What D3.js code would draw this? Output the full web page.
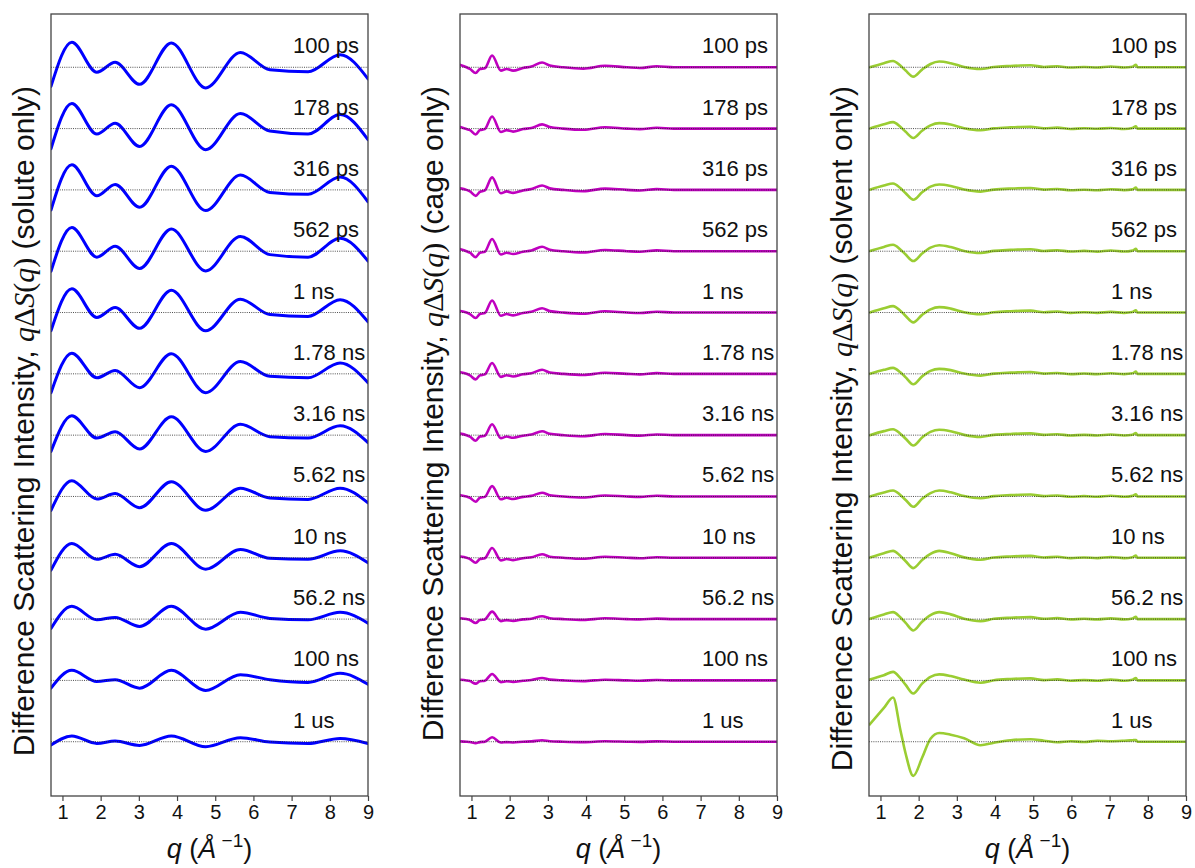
<!DOCTYPE html>
<html>
<head>
<meta charset="utf-8">
<script src="https://cdn.jsdelivr.net/npm/d3@7"></script>
<style>
  body { margin: 0; background: #fff; }
  svg text { font-family: "Liberation Sans", Arial, sans-serif; }
</style>
</head>
<body>
<svg id="chart" width="1195" height="868"></svg>
<script>
// Time delays, top to bottom
const delays = ["100 ps", "178 ps", "316 ps", "562 ps", "1 ns", "1.78 ns",
                "3.16 ns", "5.62 ns", "10 ns", "56.2 ns", "100 ns", "1 us"];

// Vertical offset between stacked curves (intensity units)
const stackStep = 61;

// x ticks
const qTicks = [1, 2, 3, 4, 5, 6, 7, 8, 9];

// ---- solute-only contribution ----
const qSolute = [0.70, 1.245, 1.90, 2.38, 3.02, 3.85, 4.75, 5.66, 6.43, 7.43, 8.27, 9.0];
const soluteCurves = [
  [-19.0, 25.0, -4.9, 4.9, -16.9, 24.2, -20.5, 14.7, -2.5, -4.5, 12.5, -11.5],
  [-20.0, 25.0, -5.5, 5.2, -17.8, 23.6, -21.0, 15.0, -2.5, -5.5, 14.0, -11.0],
  [-20.0, 25.0, -5.9, 5.4, -17.2, 23.6, -20.6, 14.7, -2.5, -4.4, 12.8, -11.8],
  [-20.0, 23.6, -5.9, 4.9, -17.2, 22.1, -19.6, 14.7, -3.4, -5.9, 12.8, -9.8],
  [-18.2, 23.6, -4.9, 4.9, -15.7, 22.1, -18.2, 13.3, -2.0, -3.9, 12.8, -9.3],
  [-18.7, 20.6, -3.9, 3.4, -13.8, 20.1, -18.7, 12.3, -2.5, -3.9, 10.8, -8.8],
  [-16.2, 19.2, -2.9, 3.4, -13.8, 18.2, -16.2, 10.8, -1.5, -2.9, 9.3, -7.4],
  [-13.8, 15.7, -2.5, 2.9, -11.3, 14.7, -13.8, 8.3, -1.5, -2.9, 8.3, -6.4],
  [-12.3, 14.2, -1.5, 3.4, -8.8, 14.2, -11.3, 8.3, -0.5, -1.5, 6.9, -4.9],
  [-9.3, 12.7, -0.7, 1.7, -7.3, 12.7, -10.0, 6.7, 0.7, -0.7, 6.7, -4.0],
  [-7.7, 10.0, -1.0, 0.7, -7.7, 10.0, -10.0, 5.7, 0.7, -2.0, 7.0, -3.9],
  [-3.3, 5.7, -1.7, 0.7, -3.7, 5.7, -5.0, 4.0, -0.3, -1.7, 3.3, -1.7]
];

// ---- cage-only contribution ----
const qCage = [0.71, 0.87, 0.96, 1.11, 1.22, 1.35, 1.54, 1.77, 1.92, 2.09, 2.35,
               2.57, 2.85, 3.05, 3.40, 3.93, 4.50, 5.07, 5.41, 5.85, 6.30, 9.0];
const cageCurves = [
  [2.3, 0, -1.7, -5.7, -1.7, -1.0, 11.7, -3.3, -1.7, -3.3, -0.7, 0.7, 4.7, 1.7, 0, -1.3, 1.5, 0, -0.7, 1.0, 0, 0],
  [1.5, -0.5, -1.5, -5.9, -1.5, -0.5, 12.0, -3.4, -1.5, -3.0, -0.5, 0.5, 4.2, 1.5, 0, -1.2, 1.3, 0, -0.5, 0.8, 0, 0],
  [1.5, 0, -1.5, -5.9, -2.0, -0.5, 12.5, -3.4, -1.5, -3.0, -0.5, 0.8, 4.4, 1.5, 0, -1.3, 1.3, 0, -0.6, 0.8, 0, 0],
  [2.0, 0, -1.5, -5.9, -1.5, -0.5, 12.2, -3.2, -1.5, -2.8, -0.5, 0.7, 4.4, 1.5, 0, -1.2, 1.2, 0, -0.5, 0.8, 0, 0],
  [1.5, 0, -1.5, -5.5, -1.5, -0.5, 12.0, -3.2, -1.5, -2.8, -0.5, 0.7, 4.2, 1.4, 0, -1.2, 1.2, 0, -0.5, 0.8, 0, 0],
  [1.5, 0, -1.5, -5.5, -1.5, -0.5, 10.8, -3.0, -1.4, -2.6, -0.5, 0.6, 4.0, 1.3, 0, -1.1, 1.1, 0, -0.5, 0.7, 0, 0],
  [1.5, 0, -1.4, -5.5, -1.4, -0.5, 10.8, -3.0, -1.4, -2.6, -0.5, 0.6, 3.9, 1.3, 0, -1.1, 1.1, 0, -0.5, 0.7, 0, 0],
  [1.3, 0, -1.3, -5.2, -1.3, -0.4, 10.3, -2.8, -1.3, -2.5, -0.4, 0.6, 3.7, 1.2, 0, -1.0, 1.0, 0, -0.4, 0.7, 0, 0],
  [1.2, 0, -1.2, -4.9, -1.2, -0.4, 9.8, -2.6, -1.2, -2.3, -0.4, 0.5, 3.5, 1.1, 0, -1.0, 1.0, 0, -0.4, 0.6, 0, 0],
  [0.8, 0, -0.8, -3.9, -1.0, -0.3, 7.4, -2.0, -1.0, -1.8, -0.3, 0.4, 2.8, 0.9, 0, -0.8, 0.8, 0, -0.3, 0.5, 0, 0],
  [0.7, 0, -0.7, -3.2, -0.8, -0.3, 6.4, -1.7, -0.8, -1.5, -0.3, 0.4, 2.4, 0.8, 0, -0.7, 0.7, 0, -0.3, 0.4, 0, 0],
  [0.3, 0, -0.3, -1.5, -0.4, 0, 4.4, -0.8, -0.4, -0.7, 0, 0.3, 1.5, 0.5, 0, -0.4, 0.4, 0, -0.2, 0.3, 0, 0]
];

// ---- solvent-only contribution ----
const qSolvent = [0.72, 1.09, 1.33, 1.52, 1.66, 1.86, 2.09, 2.31, 2.54, 2.84, 3.19, 3.62, 3.97,
                  4.41, 4.93, 5.28, 5.63, 5.98, 6.33, 6.68, 7.03, 7.38, 7.60, 7.69, 7.73, 9.0];
const solventCurves = [
  [0, 4.0, 6.3, 1.7, -3.3, -9.3, -2.3, 3.3, 5.7, 4.0, 0.3, -1.7, 0.3, 1.3, 2.0, 0.3, 1.0, -0.3, 0.3, -0.3, 0.7, -0.3, 0.5, 2.5, 0, 0],
  [0, 4.2, 6.4, 1.8, -3.2, -9.3, -2.2, 3.2, 5.4, 4.0, 0.4, -1.6, 0.2, 1.2, 1.8, 0.2, 1.0, -0.4, 0.4, -0.2, 0.6, -0.4, 0.6, 2.3, 0, 0],
  [0.2, 4.3, 6.4, 1.8, -3.3, -9.8, -2.4, 3.2, 5.4, 3.9, 0.3, -1.7, 0.3, 1.4, 1.9, 0.3, 0.9, -0.3, 0.2, -0.3, 0.7, -0.2, 0.5, 2.4, 0, 0],
  [0.2, 4.3, 6.4, 1.8, -3.3, -9.8, -2.3, 3.5, 5.9, 4.1, 0.3, -1.8, 0.3, 1.3, 2.0, 0.2, 1.0, -0.3, 0.3, -0.4, 0.7, -0.3, 0.6, 2.3, 0, 0],
  [0, 4.2, 6.4, 1.8, -3.4, -9.8, -2.3, 3.2, 5.4, 3.9, 0.3, -1.7, 0.3, 1.3, 1.9, 0.3, 1.0, -0.3, 0.3, -0.3, 0.6, -0.3, 0.5, 2.2, 0, 0],
  [0, 4.0, 5.9, 1.5, -3.5, -10.3, -2.5, 3.0, 4.9, 3.7, 0.3, -1.8, 0.2, 1.2, 1.8, 0.2, 0.9, -0.3, 0.3, -0.3, 0.6, -0.3, 0.5, 2.2, 0, 0],
  [0, 4.0, 5.9, 1.5, -3.5, -10.3, -2.4, 3.2, 5.4, 3.9, 0.3, -1.8, 0.3, 1.2, 1.8, 0.3, 0.9, -0.3, 0.3, -0.3, 0.6, -0.3, 0.5, 2.1, 0, 0],
  [0, 4.0, 5.9, 1.5, -3.5, -10.3, -2.3, 3.4, 5.9, 4.1, 0.4, -1.8, 0.3, 1.3, 1.9, 0.3, 1.0, -0.3, 0.3, -0.3, 0.7, -0.3, 0.6, 2.2, 0, 0],
  [0.2, 4.5, 6.9, 1.9, -3.4, -10.3, -2.2, 3.9, 6.9, 4.6, 0.4, -1.9, 0.3, 1.3, 1.9, 0.3, 1.0, -0.3, 0.3, -0.3, 0.7, -0.3, 0.6, 2.2, 0, 0],
  [0.3, 4.6, 6.9, 1.8, -3.8, -11.3, -2.6, 3.9, 6.9, 4.7, 0.4, -2.0, 0.3, 1.4, 2.0, 0.3, 1.0, -0.3, 0.3, -0.3, 0.7, -0.3, 0.6, 2.4, 0, 0],
  [1.0, 5.2, 8.5, 2.2, -4.5, -13.0, -3.2, 3.6, 6.0, 4.3, 0.8, -2.3, 0.2, 1.4, 2.0, 0.3, 1.0, -0.3, 0.3, -0.3, 0.8, -0.3, 0.6, 2.4, 0, 0],
  [17.3, 33.6, 44.0, 12.0, -12.0, -34.0, -16.0, 3.0, 8.7, 7.0, 3.5, -3.5, -1.0, 1.5, 2.5, 1.0, -0.5, 0.5, -0.3, 1.0, 0.5, 1.0, 1.5, 1.7, 0, 0]
];

// ---- layout ----
const panelTop = 14, panelBottom = 796, panelWidth = 317;
const panels = [
  { q: qSolute,  curves: soluteCurves,  color: "#0000ff", stroke: 3.0, part: "solute only",  left: 51 },
  { q: qCage,    curves: cageCurves,    color: "#bf00bf", stroke: 2.6, part: "cage only",    left: 460 },
  { q: qSolvent, curves: solventCurves, color: "#9acd32", stroke: 2.6, part: "solvent only", left: 869 }
];

const svg = d3.select("#chart");
const serif = "'Liberation Serif', 'Times New Roman', serif";

const y = d3.scaleLinear()
  .domain([-54, 724])
  .range([panelBottom, panelTop]);

panels.forEach(p => {
  const x = d3.scaleLinear().domain([0.7, 9]).range([p.left, p.left + panelWidth]);
  const g = svg.append("g");

  const clipId = "clip-" + p.left;
  svg.append("clipPath").attr("id", clipId)
    .append("rect")
    .attr("x", p.left).attr("y", panelTop)
    .attr("width", panelWidth).attr("height", panelBottom - panelTop);

  const plot = g.append("g").attr("clip-path", `url(#${clipId})`);

  const line = d3.line()
    .x(d => x(d[0]))
    .y(d => y(d[1]))
    .curve(d3.curveMonotoneX);

  p.curves.forEach((vals, i) => {
    const offset = (delays.length - 1 - i) * stackStep;
    const pts = p.q.map((q, k) => [q, vals[k] + offset]);
    plot.append("path")
      .attr("d", line(pts))
      .attr("fill", "none")
      .attr("stroke", p.color)
      .attr("stroke-width", p.stroke)
      .attr("stroke-linejoin", "round")
      .attr("stroke-linecap", "round");
  });

  // zero reference and delay label for each curve
  delays.forEach((lab, i) => {
    const offset = (delays.length - 1 - i) * stackStep;
    plot.append("line")
      .attr("x1", x(0.7)).attr("x2", x(9))
      .attr("y1", y(offset)).attr("y2", y(offset))
      .attr("stroke", "#222")
      .attr("stroke-width", 0.8)
      .attr("stroke-dasharray", "1,1.2");

    g.append("text")
      .attr("x", p.left + 242)
      .attr("y", y(offset) - 14)
      .attr("text-anchor", "start")
      .attr("font-size", 22)
      .attr("fill", "#111")
      .text(lab);
  });

  // frame
  g.append("rect")
    .attr("x", p.left).attr("y", panelTop)
    .attr("width", panelWidth).attr("height", panelBottom - panelTop)
    .attr("fill", "none")
    .attr("stroke", "#444")
    .attr("stroke-width", 1.3);

  // bottom axis
  const axis = g.append("g")
    .attr("transform", `translate(0,${panelBottom})`)
    .call(d3.axisBottom(x).tickValues(qTicks).tickSize(5).tickPadding(4).tickFormat(d3.format("d")));
  axis.select(".domain").remove();
  axis.selectAll(".tick line").attr("stroke", "#444").attr("stroke-width", 1.2);
  axis.selectAll(".tick text")
    .attr("font-size", 20)
    .attr("fill", "#111")
    .attr("font-family", "'Liberation Sans', Arial, sans-serif");

  // x label: q (Å^-1)
  const xl = g.append("text")
    .attr("x", p.left + panelWidth / 2)
    .attr("y", 858)
    .attr("text-anchor", "middle")
    .attr("font-family", serif)
    .attr("font-size", 27)
    .attr("fill", "#111");
  xl.append("tspan").attr("font-style", "italic").text("q");
  xl.append("tspan").text(" (");
  xl.append("tspan").attr("font-style", "italic").text("Å");
  xl.append("tspan").attr("font-size", 19).attr("dy", -11).text(" −1");
  xl.append("tspan").attr("dy", 11).text(")");

  // y label, anchored at its top end
  const yl = g.append("text")
    .attr("transform", `translate(${p.left - 17},86) rotate(-90)`)
    .attr("text-anchor", "end")
    .attr("font-size", 30)
    .attr("fill", "#111");
  yl.append("tspan").text("Difference Scattering Intensity, ");
  yl.append("tspan").attr("font-family", serif).attr("font-style", "italic").text("q");
  yl.append("tspan").attr("font-family", serif).text("Δ");
  yl.append("tspan").attr("font-family", serif).attr("font-style", "italic").text("S");
  yl.append("tspan").attr("font-family", serif).text("(");
  yl.append("tspan").attr("font-family", serif).attr("font-style", "italic").text("q");
  yl.append("tspan").attr("font-family", serif).text(")");
  yl.append("tspan").text(` (${p.part})`);
});
</script>
</body>
</html>
